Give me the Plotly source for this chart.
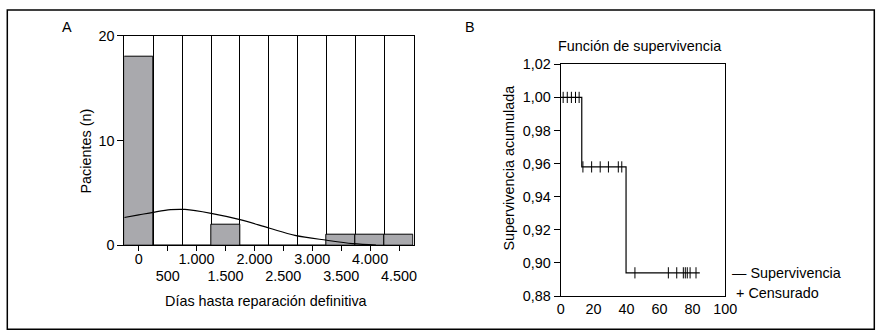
import plotly.graph_objects as go

# ---- Panel A data ----
bin_centers = [0, 500, 1000, 1500, 2000, 2500, 3000, 3500, 4000, 4500]
patient_counts = [18, 0, 0, 2, 0, 0, 0, 1, 1, 1]
bin_width = 500
top_row_ticks = [0, 1000, 2000, 3000, 4000]
top_row_text = ["0", "1.000", "2.000", "3.000", "4.000"]
bottom_row_ticks = [500, 1500, 2500, 3500, 4500]
bottom_row_text = ["500", "1.500", "2.500", "3.500", "4.500"]
hist_y_ticks = [0, 10, 20]
curve_x = [-250, 0, 250, 550, 800, 1250, 1750, 2250, 2700, 3250, 3700, 4100]
curve_y = [2.65, 2.9, 3.15, 3.4, 3.42, 3.05, 2.45, 1.65, 0.95, 0.48, 0.16, 0.03]

# ---- Panel B data ----
km_times = [0, 12.8, 39.7, 84.5]
km_surv = [1.0, 0.958, 0.894, 0.894]
cens_times = [1.5, 4, 6.5, 9, 11.2,
              13.5, 18.8, 24, 29, 35, 37.1,
              45.1, 65.4, 70.5, 74.5, 75.7, 76.9, 78.6, 82.2]
cens_surv = [1.0] * 5 + [0.958] * 6 + [0.894] * 8
km_y_ticks = [0.88, 0.90, 0.92, 0.94, 0.96, 0.98, 1.00, 1.02]
km_y_text = ["0,88", "0,90", "0,92", "0,94", "0,96", "0,98", "1,00", "1,02"]
km_x_ticks = [0, 20, 40, 60, 80, 100]

FONT = "Liberation Sans, Arial, sans-serif"
FS = 14.4
GRAY = "#a9a9ad"
W, H = 884, 333

bin_edges = [c + bin_width / 2 for c in bin_centers[:-1]]

fig = go.Figure()

fig.add_trace(go.Bar(x=bin_centers, y=patient_counts, width=bin_width,
                     marker=dict(color=GRAY, line=dict(color="black", width=1)),
                     xaxis="x", yaxis="y", showlegend=False))
fig.add_trace(go.Scatter(x=curve_x, y=curve_y, mode="lines", line_shape="spline",
                         line=dict(color="black", width=1.2),
                         xaxis="x", yaxis="y", showlegend=False))
# invisible carrier so the second row of tick labels (xaxis3) is drawn
fig.add_trace(go.Scatter(x=bottom_row_ticks, y=[0] * len(bottom_row_ticks), mode="markers",
                         marker=dict(opacity=0, size=1), hoverinfo="skip",
                         xaxis="x3", yaxis="y", showlegend=False))

fig.add_trace(go.Scatter(x=km_times, y=km_surv, mode="lines", line_shape="hv",
                         line=dict(color="black", width=1.2), name="Supervivencia",
                         xaxis="x2", yaxis="y2", showlegend=False))
fig.add_trace(go.Scatter(x=cens_times, y=cens_surv, mode="markers", name="Censurado",
                         marker=dict(symbol="line-ns", size=8,
                                     line=dict(color="black", width=1)),
                         xaxis="x2", yaxis="y2", showlegend=False))

def px_x(v):
    return v / W

def px_y(v):
    return (H - v) / H

axis_common = dict(showline=True, linecolor="black", linewidth=1, mirror=True,
                   ticks="outside", tickcolor="black", tickwidth=1,
                   showgrid=False, zeroline=False, automargin=False, tickangle=0,
                   tickfont=dict(family=FONT, size=FS, color="black"))

all_ticks_text = [top_row_text[top_row_ticks.index(c)] if c in top_row_ticks else ""
                  for c in bin_centers]

fig.update_layout(
    width=W, height=H, autosize=False,
    margin=dict(l=0, r=0, t=0, b=0),
    paper_bgcolor="white", plot_bgcolor="white",
    font=dict(family=FONT, size=FS, color="black"),
    bargap=0,
    xaxis=dict(domain=[px_x(124.3), px_x(413.5)], range=[-250, 4750],
               tickmode="array", tickvals=bin_centers, ticktext=all_ticks_text,
               ticklen=5, anchor="y", ticklabelstandoff=-5,
               minor=dict(tickvals=bin_edges, showgrid=True, gridcolor="black",
                          gridwidth=1, ticks=""),
               **axis_common),
    xaxis3=dict(overlaying="x", anchor="y", side="bottom", range=[-250, 4750],
                tickmode="array", tickvals=bottom_row_ticks, ticktext=bottom_row_text,
                showline=False, ticks="", showgrid=False, zeroline=False,
                automargin=False, tickangle=0, ticklabelstandoff=20,
                tickfont=dict(family=FONT, size=FS, color="black")),
    yaxis=dict(domain=[px_y(245.3), px_y(35.7)], range=[0, 20],
               tickmode="array", tickvals=hist_y_ticks, ticklen=6, anchor="x",
               **axis_common),
    xaxis2=dict(domain=[px_x(560.7), px_x(725.3)], range=[0, 100],
                tickmode="array", tickvals=km_x_ticks, anchor="y2",
                **{**axis_common, "ticks": ""}),
    yaxis2=dict(domain=[px_y(296), px_y(64.3)], range=[0.88, 1.02],
                tickmode="array", tickvals=km_y_ticks, ticktext=km_y_text,
                ticklen=6, anchor="x2", **axis_common),
)

ann = dict(showarrow=False, xref="paper", yref="paper",
           font=dict(family=FONT, size=FS, color="black"))
fig.add_annotation(text="A", x=px_x(66.7), y=px_y(27), xanchor="center", yanchor="middle", **ann)
fig.add_annotation(text="B", x=px_x(470), y=px_y(26.7), xanchor="center", yanchor="middle", **ann)
fig.add_annotation(text="Función de supervivencia", x=px_x(639), y=px_y(46),
                   xanchor="center", yanchor="middle", **ann)
fig.add_annotation(text="Pacientes (n)", x=px_x(85), y=px_y(151.5), textangle=-90,
                   xanchor="center", yanchor="middle", **ann)
fig.add_annotation(text="Días hasta reparación definitiva", x=px_x(265.8), y=px_y(301),
                   xanchor="center", yanchor="middle", **ann)
fig.add_annotation(text="Supervivencia acumulada", x=px_x(508), y=px_y(167.5), textangle=-90,
                   xanchor="center", yanchor="middle", **ann)
fig.add_annotation(text="— Supervivencia", x=px_x(730), y=px_y(272.7),
                   xanchor="left", yanchor="middle", **ann)
fig.add_annotation(text="+ Censurado", x=px_x(734), y=px_y(292.7),
                   xanchor="left", yanchor="middle", **ann)

fig.add_shape(type="rect", xref="paper", yref="paper",
              x0=px_x(7.3), x1=px_x(874.3), y0=px_y(329.3), y1=px_y(10),
              line=dict(color="black", width=1.5))

fig.write_html("out.html", config={"displayModeBar": False},
               post_script="document.body.style.margin='0';document.body.style.padding='0';")
